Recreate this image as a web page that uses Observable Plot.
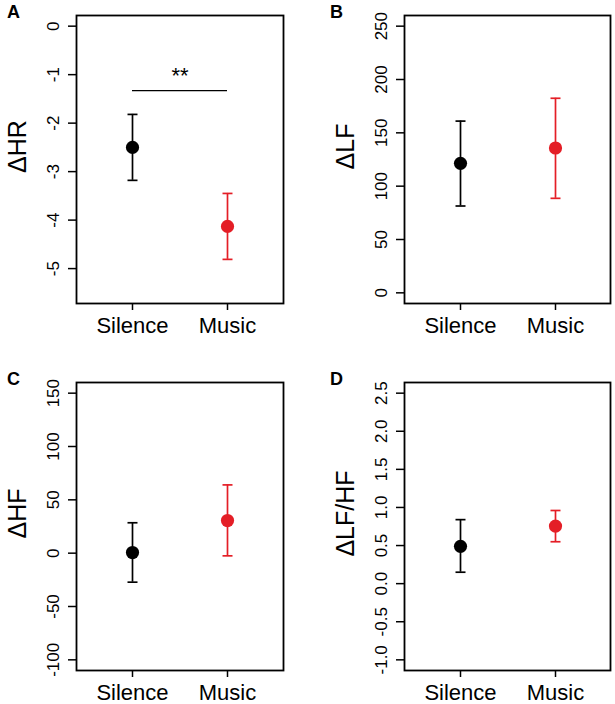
<!DOCTYPE html>
<html>
<head>
<meta charset="utf-8">
<script src="https://cdn.jsdelivr.net/npm/d3@7"></script>
<script src="https://cdn.jsdelivr.net/npm/@observablehq/plot@0.6"></script>
<style>
  html, body { margin: 0; padding: 0; background: #fff; }
  #wrap { position: relative; width: 615px; height: 704px; overflow: hidden; background: #fff;
          font-family: "Liberation Sans", Arial, Helvetica, sans-serif; }
  .panel { position: absolute; }
</style>
</head>
<body>
<div id="wrap"></div>
<script>
// ---- data ----
const groups = ["Silence", "Music"];
const groupColors = ["#000000", "#e41e26"];

const hrMean = [-2.5, -4.13];
const hrLow  = [-3.18, -4.81];
const hrHigh = [-1.82, -3.45];
const hrTicks = [0, -1, -2, -3, -4, -5];
const hrLim = [-5.5, 0];

const lfMean = [121.4, 135.8];
const lfLow  = [81.4, 88.6];
const lfHigh = [161, 182.4];
const lfTicks = [0, 50, 100, 150, 200, 250];
const lfLim = [0, 250];

const hfMean = [0.6, 30.6];
const hfLow  = [-27.2, -2.5];
const hfHigh = [28.5, 64];
const hfTicks = [-100, -50, 0, 50, 100, 150];
const hfLim = [-100, 150];

const ratioMean = [0.49, 0.755];
const ratioLow  = [0.15, 0.55];
const ratioHigh = [0.84, 0.96];
const ratioTicks = [-1.0, -0.5, 0.0, 0.5, 1.0, 1.5, 2.0, 2.5];
const ratioLim = [-1, 2.5];

// significance annotation (panel A)
const sigLevel = -1.33;
const sigText = "**";

const FONT = "Liberation Sans, Arial, Helvetica, sans-serif";

// horizontal cap symbol for error bars
const capSymbol = {draw(ctx) { ctx.moveTo(-5, 0); ctx.lineTo(5, 0); }};

function rows(mean, low, high) {
  return groups.map((g, i) => ({group: g, mean: mean[i], low: low[i], high: high[i], color: groupColors[i]}));
}

function panel({letter, ylabel, data, ticks, lim, fmt, pos, margins, extra = []}) {
  const ext = 0.04 * (lim[1] - lim[0]);
  const chart = Plot.plot({
    width: pos.w, height: pos.h,
    marginLeft: margins[0], marginRight: margins[1], marginTop: margins[2], marginBottom: margins[3],
    style: {fontFamily: FONT, background: "white", color: "black", overflow: "visible"},
    x: {type: "point", domain: groups, padding: 0.58},
    y: {domain: [lim[0] - ext, lim[1] + ext]},
    marks: [
      Plot.frame({stroke: "black", strokeWidth: 1.8}),
      Plot.axisY({ticks, tickSize: 8, tickFormat: () => "", strokeWidth: 1.5, label: null}),
      Plot.text(ticks, {y: d => d, text: fmt, frameAnchor: "left", dx: -23, rotate: -90,
                        fontSize: 17, textAnchor: "middle", lineAnchor: "middle", fill: "black"}),
      Plot.axisX({tickSize: 7, tickPadding: 7, fontSize: 22, strokeWidth: 1.5, label: null}),
      Plot.ruleX(data, {x: "group", y1: "low", y2: "high", stroke: "color", strokeWidth: 1.7}),
      Plot.dot(data, {x: "group", y: "low", symbol: capSymbol, stroke: "color", fill: "none", strokeWidth: 1.7}),
      Plot.dot(data, {x: "group", y: "high", symbol: capSymbol, stroke: "color", fill: "none", strokeWidth: 1.7}),
      Plot.dot(data, {x: "group", y: "mean", r: 6.6, fill: "color", stroke: "none"}),
      Plot.text([ylabel], {frameAnchor: "left", dx: -59, dy: -13, rotate: -90, text: d => d,
                 fontSize: 25, textAnchor: "middle", lineAnchor: "middle", fill: "black"}),
      Plot.text([letter], {frameAnchor: "top-left", dx: pos.letterDx, dy: -3, text: d => d,
                 fontSize: 18, fontWeight: "bold", textAnchor: "middle", lineAnchor: "middle", fill: "black"}),
      ...extra
    ]
  });
  const div = document.createElement("div");
  div.className = "panel";
  div.style.left = pos.x + "px";
  div.style.top = pos.y + "px";
  div.appendChild(chart);
  document.getElementById("wrap").appendChild(div);
}

const intFmt = d => String(d);
const decFmt = d => d.toFixed(1);

panel({
  letter: "A", ylabel: "ΔHR", data: rows(hrMean, hrLow, hrHigh), ticks: hrTicks, lim: hrLim, fmt: intFmt,
  pos: {x: 0, y: 0, w: 307, h: 352, letterDx: -63}, margins: [76, 24, 15, 49],
  extra: [
    Plot.ruleY([sigLevel], {x1: () => groups[0], x2: () => groups[1], y: d => d, stroke: "black", strokeWidth: 1.2}),
    Plot.text([sigText], {y: () => sigLevel, text: d => d, frameAnchor: "middle", lineAnchor: "bottom",
                          dy: -8, fontSize: 22, fill: "black"})
  ]
});
panel({
  letter: "B", ylabel: "ΔLF", data: rows(lfMean, lfLow, lfHigh), ticks: lfTicks, lim: lfLim, fmt: intFmt,
  pos: {x: 307, y: 0, w: 308, h: 352, letterDx: -68}, margins: [97, 5, 15, 49]
});
panel({
  letter: "C", ylabel: "ΔHF", data: rows(hfMean, hfLow, hfHigh), ticks: hfTicks, lim: hfLim, fmt: intFmt,
  pos: {x: 0, y: 352, w: 307, h: 352, letterDx: -63}, margins: [76, 24, 30, 34]
});
panel({
  letter: "D", ylabel: "ΔLF/HF", data: rows(ratioMean, ratioLow, ratioHigh), ticks: ratioTicks, lim: ratioLim, fmt: decFmt,
  pos: {x: 307, y: 352, w: 308, h: 352, letterDx: -68}, margins: [97, 5, 30, 34]
});
</script>
</body>
</html>
